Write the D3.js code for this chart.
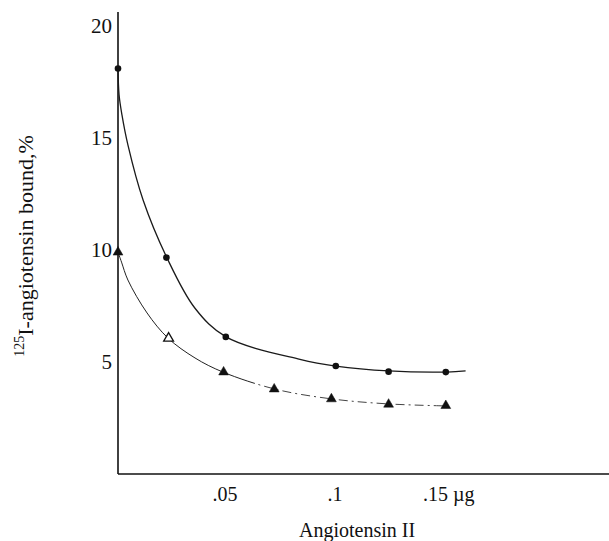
<!DOCTYPE html>
<html>
<head>
<meta charset="utf-8">
<script src="https://cdn.jsdelivr.net/npm/d3@7"></script>
<style>
  html, body { margin: 0; padding: 0; background: #fff; }
  svg { display: block; }
</style>
</head>
<body>
<div id="container"></div>
<script>
const width = 609, height = 541;

// --- Data ---
// filled circles (upper series)
const circleX = [0, 0.022, 0.049, 0.099, 0.123, 0.149];
const circleY = [18.1, 9.66, 6.12, 4.82, 4.57, 4.55];
// triangles (lower series); the second point is drawn open
const triX = [0, 0.023, 0.048, 0.071, 0.097, 0.123, 0.149];
const triY = [9.9, 6.06, 4.55, 3.79, 3.35, 3.11, 3.05];
const triOpen = [false, true, false, false, false, false, false];
// hand-drawn fit curves
const upperCurveX = [0, 0.0005, 0.0018, 0.0045, 0.0114, 0.0223, 0.035, 0.0491, 0.0827, 0.099, 0.123, 0.1495, 0.158];
const upperCurveY = [18.13, 16.92, 16.03, 14.69, 12.23, 9.64, 7.4, 6.12, 5.12, 4.82, 4.6, 4.55, 4.6];
const lowerCurveX = [0, 0.0016, 0.0045, 0.0132, 0.0227, 0.035, 0.0477, 0.0714, 0.0973, 0.1227, 0.1486];
const lowerCurveY = [9.91, 9.46, 8.66, 7.19, 6.07, 5.18, 4.55, 3.79, 3.35, 3.13, 3.04];
// axis ticks
const yTicks = [5, 10, 15, 20];
const xTicks = [0.05, 0.1, 0.15];
const xTickLabels = [".05", ".1", ".15 µg"];

const font = "'Liberation Serif', 'Times New Roman', serif";

const svg = d3.select("#container").append("svg")
  .attr("width", width).attr("height", height);

// --- Scales ---
const x = d3.scaleLinear().domain([0, 0.15]).range([118, 448]);
const y = d3.scaleLinear().domain([0, 20]).range([474, 26]);

// --- Axes lines ---
svg.append("line")
  .attr("x1", x(0)).attr("x2", x(0))
  .attr("y1", 12).attr("y2", y(0))
  .attr("stroke", "#111").attr("stroke-width", 1.6);
svg.append("line")
  .attr("x1", x(0)).attr("x2", width)
  .attr("y1", y(0)).attr("y2", y(0))
  .attr("stroke", "#111").attr("stroke-width", 1.4);

// --- Y tick labels ---
svg.append("g").selectAll("text").data(yTicks).join("text")
  .attr("x", 112).attr("y", d => y(d)).attr("dy", "0.35em")
  .attr("text-anchor", "end")
  .style("font-family", font).style("font-size", "21px").attr("fill", "#111")
  .text(d => d);

// --- X tick labels ---
svg.append("g").selectAll("text").data(xTicks).join("text")
  .attr("x", (d, i) => i === 2 ? x(d) - 25 : x(d) - 3)
  .attr("y", 501)
  .attr("text-anchor", (d, i) => i === 2 ? "start" : "middle")
  .style("font-family", font).style("font-size", "20px").attr("fill", "#111")
  .text((d, i) => xTickLabels[i]);

// --- Axis titles ---
svg.append("text")
  .attr("x", 357).attr("y", 537)
  .attr("text-anchor", "middle")
  .style("font-family", font).style("font-size", "20px").attr("fill", "#111")
  .text("Angiotensin II");

const yTitle = svg.append("text")
  .attr("transform", "translate(30,246) rotate(-90)")
  .attr("text-anchor", "middle")
  .style("font-family", font).style("font-size", "22px").attr("fill", "#111");
yTitle.append("tspan").attr("dy", "-0.4em").style("font-size", "14px").text("125");
yTitle.append("tspan").attr("dy", "0.4em").text("I-angiotensin bound,%");

// --- Curves ---
const line = d3.line().x(d => x(d[0])).y(d => y(d[1])).curve(d3.curveCatmullRom.alpha(0.5));
const upper = upperCurveX.map((v, i) => [v, upperCurveY[i]]);
const lower = lowerCurveX.map((v, i) => [v, lowerCurveY[i]]);

svg.append("path").attr("d", line(upper))
  .attr("fill", "none").attr("stroke", "#1a1a1a").attr("stroke-width", 1.3);

const defs = svg.append("defs");
defs.append("clipPath").attr("id", "clipL").append("rect")
  .attr("x", 0).attr("y", 0).attr("width", 255).attr("height", height);
defs.append("clipPath").attr("id", "clipR").append("rect")
  .attr("x", 255).attr("y", 0).attr("width", width - 255).attr("height", height);

svg.append("path").attr("d", line(lower)).attr("clip-path", "url(#clipL)")
  .attr("fill", "none").attr("stroke", "#222").attr("stroke-width", 1);
svg.append("path").attr("d", line(lower)).attr("clip-path", "url(#clipR)")
  .attr("fill", "none").attr("stroke", "#444").attr("stroke-width", 1)
  .attr("stroke-dasharray", "9,4,2,4");

// --- Markers ---
svg.append("g").selectAll("circle").data(circleX).join("circle")
  .attr("cx", d => x(d)).attr("cy", (d, i) => y(circleY[i]))
  .attr("r", 3.3).attr("fill", "#111");

const tri = d3.symbol().type(d3.symbolTriangle).size(42);
svg.append("g").selectAll("path").data(triX).join("path")
  .attr("d", tri)
  .attr("transform", (d, i) => `translate(${x(d)},${y(triY[i])})`)
  .attr("fill", (d, i) => triOpen[i] ? "#fff" : "#111")
  .attr("stroke", "#111").attr("stroke-width", (d, i) => triOpen[i] ? 1.3 : 0.5);
</script>
</body>
</html>
